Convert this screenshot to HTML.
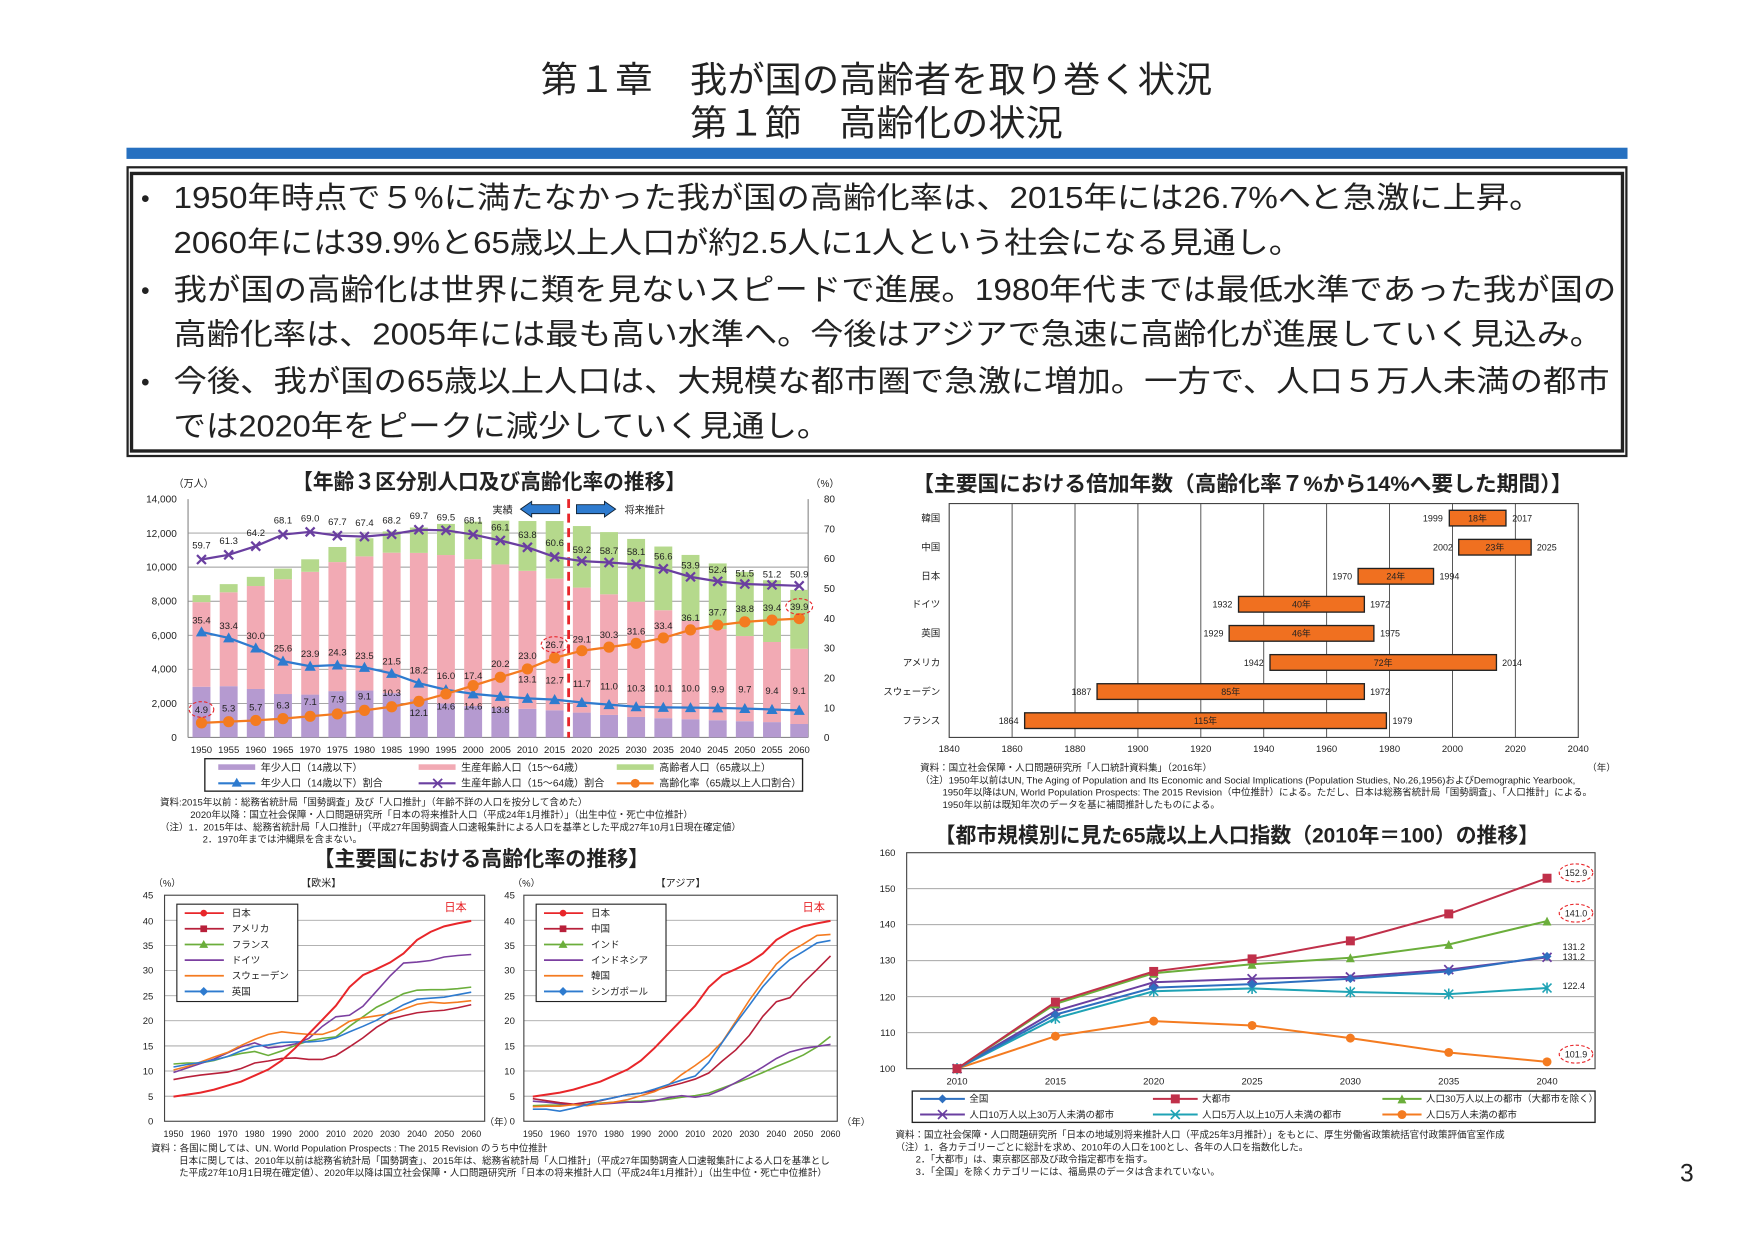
<!DOCTYPE html>
<html><head><meta charset="utf-8"><style>
html,body{margin:0;padding:0;background:#fff}
svg{display:block}
text{font-family:"Liberation Sans","Noto Sans CJK JP",sans-serif;fill:#222}
</style></head><body>
<svg width="1754" height="1241" viewBox="0 0 1567 1109" preserveAspectRatio="none" xmlns="http://www.w3.org/2000/svg">
<defs>
<marker id="mTri" markerUnits="userSpaceOnUse" markerWidth="12" markerHeight="12" refX="6" refY="6"><path d="M6,1 L11,10 L1,10Z" fill="#2E7BCF"/></marker>
<marker id="mX" markerUnits="userSpaceOnUse" markerWidth="12" markerHeight="12" refX="6" refY="6"><path d="M2,2 L10,10 M10,2 L2,10" stroke="#6A3FA0" stroke-width="2"/></marker>
<marker id="mCirc" markerUnits="userSpaceOnUse" markerWidth="12" markerHeight="12" refX="6" refY="6"><circle cx="6" cy="6" r="5" fill="#F47B20"/></marker>
<marker id="cDia" markerUnits="userSpaceOnUse" markerWidth="10" markerHeight="10" refX="5" refY="5"><path d="M5,1 L9,5 L5,9 L1,5Z" fill="#2E6FBF"/></marker>
<marker id="cSq" markerUnits="userSpaceOnUse" markerWidth="10" markerHeight="10" refX="5" refY="5"><rect x="1" y="1" width="8" height="8" fill="#C0304A"/></marker>
<marker id="cTri" markerUnits="userSpaceOnUse" markerWidth="10" markerHeight="10" refX="5" refY="5"><path d="M5,1 L9,9 L1,9Z" fill="#6BAE3B"/></marker>
<marker id="cX" markerUnits="userSpaceOnUse" markerWidth="10" markerHeight="10" refX="5" refY="5"><path d="M1,1 L9,9 M9,1 L1,9" stroke="#6A3FA0" stroke-width="1.6"/></marker>
<marker id="cSt" markerUnits="userSpaceOnUse" markerWidth="10" markerHeight="10" refX="5" refY="5"><path d="M1,1 L9,9 M9,1 L1,9 M5,0 L5,10" stroke="#1FA3B5" stroke-width="1.4"/></marker>
<marker id="cCi" markerUnits="userSpaceOnUse" markerWidth="10" markerHeight="10" refX="5" refY="5"><circle cx="5" cy="5" r="4" fill="#F47B20"/></marker>
</defs>

<!-- Titles -->
<text x="783" y="82" font-size="32" text-anchor="middle" textLength="600" lengthAdjust="spacingAndGlyphs">第１章　我が国の高齢者を取り巻く状況</text>
<text x="783" y="121" font-size="32" text-anchor="middle" textLength="333" lengthAdjust="spacingAndGlyphs">第１節　高齢化の状況</text>
<rect x="113" y="132" width="1341" height="10" fill="#2670C0"/>

<!-- summary box -->
<rect x="114" y="149.5" width="1339" height="258" fill="none" stroke="#222" stroke-width="2"/>
<rect x="117.5" y="155" width="1332" height="248" fill="none" stroke="#222" stroke-width="3"/>
<g font-size="27">
<text x="126" y="185" fill="#2670C0" font-size="22">•</text>
<text x="155" y="186" textLength="1223" lengthAdjust="spacingAndGlyphs">1950年時点で５%に満たなかった我が国の高齢化率は、2015年には26.7%へと急激に上昇。</text>
<text x="155" y="226" textLength="1008" lengthAdjust="spacingAndGlyphs">2060年には39.9%と65歳以上人口が約2.5人に1人という社会になる見通し。</text>
<text x="126" y="267" fill="#2670C0" font-size="22">•</text>
<text x="155" y="268" textLength="1289" lengthAdjust="spacingAndGlyphs">我が国の高齢化は世界に類を見ないスピードで進展。1980年代までは最低水準であった我が国の</text>
<text x="155" y="308" textLength="1277" lengthAdjust="spacingAndGlyphs">高齢化率は、2005年には最も高い水準へ。今後はアジアで急速に高齢化が進展していく見込み。</text>
<text x="126" y="349" fill="#2670C0" font-size="22">•</text>
<text x="155" y="350" textLength="1283" lengthAdjust="spacingAndGlyphs">今後、我が国の65歳以上人口は、大規模な都市圏で急激に増加。一方で、人口５万人未満の都市</text>
<text x="155" y="390" textLength="586" lengthAdjust="spacingAndGlyphs">では2020年をピークに減少していく見通し。</text>
</g>

<!-- ============ Chart 1 ============ -->
<text x="437" y="437" font-size="19" font-weight="bold" text-anchor="middle" textLength="352" lengthAdjust="spacingAndGlyphs">【年齢３区分別人口及び高齢化率の推移】</text>
<text x="155" y="435" font-size="9">（万人）</text>
<text x="724" y="435" font-size="9">（%）</text>
<g stroke="#999" stroke-width="0.8">
<line x1="168" y1="628.6" x2="722" y2="628.6"/><line x1="168" y1="598.1" x2="722" y2="598.1"/><line x1="168" y1="567.7" x2="722" y2="567.7"/><line x1="168" y1="537.3" x2="722" y2="537.3"/><line x1="168" y1="506.8" x2="722" y2="506.8"/><line x1="168" y1="476.4" x2="722" y2="476.4"/>
</g>
<line x1="168" y1="446" x2="168" y2="659" stroke="#888"/>
<line x1="722" y1="446" x2="722" y2="659" stroke="#888"/>
<line x1="168" y1="659" x2="722" y2="659" stroke="#888"/>
<g font-size="9" text-anchor="end">
<text x="158" y="662">0</text><text x="158" y="632">2,000</text><text x="158" y="601">4,000</text><text x="158" y="571">6,000</text><text x="158" y="540">8,000</text><text x="158" y="510">10,000</text><text x="158" y="480">12,000</text><text x="158" y="449">14,000</text>
</g>
<g font-size="9">
<text x="736" y="662">0</text><text x="736" y="636">10</text><text x="736" y="609">20</text><text x="736" y="582">30</text><text x="736" y="556">40</text><text x="736" y="529">50</text><text x="736" y="502">60</text><text x="736" y="476">70</text><text x="736" y="449">80</text>
</g>
<!-- bars -->
<g>
<rect x="172" y="613.7" width="16" height="45.3" fill="#B59AD0"/><rect x="172" y="538.1" width="16" height="75.6" fill="#F2AAB4"/><rect x="172" y="531.8" width="16" height="6.3" fill="#B5D98C"/>
<rect x="196.3" y="613.2" width="16" height="45.8" fill="#B59AD0"/><rect x="196.3" y="529.3" width="16" height="83.9" fill="#F2AAB4"/><rect x="196.3" y="522" width="16" height="7.3" fill="#B5D98C"/>
<rect x="220.5" y="615.7" width="16" height="43.3" fill="#B59AD0"/><rect x="220.5" y="523.7" width="16" height="92" fill="#F2AAB4"/><rect x="220.5" y="515.5" width="16" height="8.2" fill="#B5D98C"/>
<rect x="244.8" y="620.2" width="16" height="38.8" fill="#B59AD0"/><rect x="244.8" y="517.6" width="16" height="102.6" fill="#F2AAB4"/><rect x="244.8" y="508.1" width="16" height="9.5" fill="#B5D98C"/>
<rect x="269.1" y="620.7" width="16" height="38.3" fill="#B59AD0"/><rect x="269.1" y="511" width="16" height="109.7" fill="#F2AAB4"/><rect x="269.1" y="499.8" width="16" height="11.2" fill="#B5D98C"/>
<rect x="293.4" y="617.6" width="16" height="41.4" fill="#B59AD0"/><rect x="293.4" y="502.3" width="16" height="115.3" fill="#F2AAB4"/><rect x="293.4" y="488.8" width="16" height="13.5" fill="#B5D98C"/>
<rect x="317.6" y="617.1" width="16" height="41.9" fill="#B59AD0"/><rect x="317.6" y="497.2" width="16" height="119.9" fill="#F2AAB4"/><rect x="317.6" y="481" width="16" height="16.2" fill="#B5D98C"/>
<rect x="341.9" y="619.4" width="16" height="39.6" fill="#B59AD0"/><rect x="341.9" y="493.9" width="16" height="125.5" fill="#F2AAB4"/><rect x="341.9" y="474.9" width="16" height="19" fill="#B5D98C"/>
<rect x="366.2" y="624.8" width="16" height="34.2" fill="#B59AD0"/><rect x="366.2" y="494.1" width="16" height="130.7" fill="#F2AAB4"/><rect x="366.2" y="471.4" width="16" height="22.7" fill="#B5D98C"/>
<rect x="390.4" y="628.6" width="16" height="30.4" fill="#B59AD0"/><rect x="390.4" y="496" width="16" height="132.6" fill="#F2AAB4"/><rect x="390.4" y="468.2" width="16" height="27.8" fill="#B5D98C"/>
<rect x="414.7" y="630.9" width="16" height="28.1" fill="#B59AD0"/><rect x="414.7" y="499.7" width="16" height="131.2" fill="#F2AAB4"/><rect x="414.7" y="466.2" width="16" height="33.5" fill="#B5D98C"/>
<rect x="439" y="632.3" width="16" height="26.7" fill="#B59AD0"/><rect x="439" y="504.4" width="16" height="127.9" fill="#F2AAB4"/><rect x="439" y="465.3" width="16" height="39.1" fill="#B5D98C"/>
<rect x="463.2" y="633.4" width="16" height="25.6" fill="#B59AD0"/><rect x="463.2" y="510.1" width="16" height="123.3" fill="#F2AAB4"/><rect x="463.2" y="465.6" width="16" height="44.5" fill="#B5D98C"/>
<rect x="487.5" y="634.7" width="16" height="24.3" fill="#B59AD0"/><rect x="487.5" y="517.1" width="16" height="117.6" fill="#F2AAB4"/><rect x="487.5" y="465.6" width="16" height="51.5" fill="#B5D98C"/>
<rect x="511.8" y="636.8" width="16" height="22.2" fill="#B59AD0"/><rect x="511.8" y="525.1" width="16" height="111.7" fill="#F2AAB4"/><rect x="511.8" y="470.1" width="16" height="55" fill="#B5D98C"/>
<rect x="536.1" y="638.9" width="16" height="20.1" fill="#B59AD0"/><rect x="536.1" y="531.1" width="16" height="107.8" fill="#F2AAB4"/><rect x="536.1" y="475.5" width="16" height="55.6" fill="#B5D98C"/>
<rect x="560.3" y="640.7" width="16" height="18.3" fill="#B59AD0"/><rect x="560.3" y="537.7" width="16" height="103" fill="#F2AAB4"/><rect x="560.3" y="481.6" width="16" height="56.1" fill="#B5D98C"/>
<rect x="584.6" y="641.8" width="16" height="17.2" fill="#B59AD0"/><rect x="584.6" y="545.3" width="16" height="96.5" fill="#F2AAB4"/><rect x="584.6" y="488.4" width="16" height="56.9" fill="#B5D98C"/>
<rect x="608.9" y="642.7" width="16" height="16.3" fill="#B59AD0"/><rect x="608.9" y="554.7" width="16" height="88" fill="#F2AAB4"/><rect x="608.9" y="495.9" width="16" height="58.8" fill="#B5D98C"/>
<rect x="633.2" y="643.6" width="16" height="15.4" fill="#B59AD0"/><rect x="633.2" y="562.2" width="16" height="81.4" fill="#F2AAB4"/><rect x="633.2" y="503.5" width="16" height="58.7" fill="#B5D98C"/>
<rect x="657.4" y="644.5" width="16" height="14.5" fill="#B59AD0"/><rect x="657.4" y="568.4" width="16" height="76.1" fill="#F2AAB4"/><rect x="657.4" y="511.1" width="16" height="57.3" fill="#B5D98C"/>
<rect x="681.7" y="645.3" width="16" height="13.7" fill="#B59AD0"/><rect x="681.7" y="573.7" width="16" height="71.6" fill="#F2AAB4"/><rect x="681.7" y="518.5" width="16" height="55.2" fill="#B5D98C"/>
<rect x="706" y="647" width="16" height="12" fill="#B59AD0"/><rect x="706" y="579.8" width="16" height="67.2" fill="#F2AAB4"/><rect x="706" y="527.1" width="16" height="52.7" fill="#B5D98C"/>
</g>
<line x1="508" y1="446" x2="508" y2="659" stroke="#E8262A" stroke-width="2.5" stroke-dasharray="8,5"/>
<path d="M465,455 L475,448 L475,451 L500,451 L500,459 L475,459 L475,462Z" fill="#2E7BCF" stroke="#123" stroke-width="0.8"/>
<path d="M550,455 L540,448 L540,451 L515,451 L515,459 L540,459 L540,462Z" fill="#2E7BCF" stroke="#123" stroke-width="0.8"/>
<text x="440" y="459" font-size="9">実績</text>
<text x="558" y="459" font-size="9">将来推計</text>
<!-- lines -->
<polyline fill="none" stroke="#6A3FA0" stroke-width="2" marker-start="url(#mX)" marker-mid="url(#mX)" marker-end="url(#mX)" points="180,500 204.3,495.8 228.5,488.1 252.8,477.7 277.1,475.3 301.4,478.7 325.6,479.5 349.9,477.4 374.2,473.4 398.4,473.9 422.7,477.7 447,483 471.2,489.1 495.5,497.7 519.8,501.4 544.1,502.7 568.3,504.3 592.6,508.3 616.9,515.5 641.2,519.5 665.4,521.9 689.7,522.7 714,523.5"/>
<polyline fill="none" stroke="#2E7BCF" stroke-width="2" marker-start="url(#mTri)" marker-mid="url(#mTri)" marker-end="url(#mTri)" points="180,564.7 204.3,570.1 228.5,579.1 252.8,590.8 277.1,595.4 301.4,594.3 325.6,596.4 349.9,601.8 374.2,610.5 398.4,616.4 422.7,620.1 447,622.3 471.2,624.1 495.5,625.2 519.8,627.8 544.1,629.7 568.3,631.6 592.6,632.1 616.9,632.4 641.2,632.6 665.4,633.2 689.7,634 714,634.8"/>
<polyline fill="none" stroke="#F47B20" stroke-width="2" marker-start="url(#mCirc)" marker-mid="url(#mCirc)" marker-end="url(#mCirc)" points="180,646 204.3,644.9 228.5,643.8 252.8,642.2 277.1,640.1 301.4,638 325.6,634.8 349.9,631.6 374.2,626.8 398.4,620.1 422.7,612.7 447,605.2 471.2,597.8 495.5,587.9 519.8,581.5 544.1,578.3 568.3,574.9 592.6,570.1 616.9,562.9 641.2,558.6 665.4,555.7 689.7,554.1 714,552.8"/>
<g font-size="8.5" text-anchor="middle">
<text x="180" y="490">59.7</text><text x="204.3" y="486">61.3</text><text x="228.5" y="479">64.2</text><text x="252.8" y="468">68.1</text><text x="277.1" y="466">69.0</text><text x="301.4" y="469">67.7</text><text x="325.6" y="470">67.4</text><text x="349.9" y="468">68.2</text><text x="374.2" y="464">69.7</text><text x="398.4" y="465">69.5</text><text x="422.7" y="468">68.1</text><text x="447" y="474">66.1</text><text x="471.2" y="481">63.8</text><text x="495.5" y="488">60.6</text><text x="519.8" y="494">59.2</text><text x="544.1" y="495">58.7</text><text x="568.3" y="496">58.1</text><text x="592.6" y="500">56.6</text><text x="616.9" y="508">53.9</text><text x="641.2" y="512">52.4</text><text x="665.4" y="515">51.5</text><text x="689.7" y="516">51.2</text><text x="714" y="516">50.9</text>
<text x="180" y="557">35.4</text><text x="204.3" y="562">33.4</text><text x="228.5" y="571">30.0</text><text x="252.8" y="582">25.6</text><text x="277.1" y="587">23.9</text><text x="301.4" y="586">24.3</text><text x="325.6" y="589">23.5</text><text x="349.9" y="594">21.5</text><text x="374.2" y="602">18.2</text><text x="398.4" y="607">16.0</text><text x="422.7" y="607">17.4</text><text x="447" y="596">20.2</text><text x="471.2" y="589">23.0</text><text x="495.5" y="579">26.7</text><text x="519.8" y="574">29.1</text><text x="544.1" y="570">30.3</text><text x="568.3" y="567">31.6</text><text x="592.6" y="562">33.4</text><text x="616.9" y="555">36.1</text><text x="641.2" y="550">37.7</text><text x="665.4" y="547">38.8</text><text x="689.7" y="546">39.4</text><text x="714" y="545">39.9</text>
<text x="180" y="637">4.9</text><text x="204.3" y="636">5.3</text><text x="228.5" y="635">5.7</text><text x="252.8" y="633">6.3</text><text x="277.1" y="630">7.1</text><text x="301.4" y="628">7.9</text><text x="325.6" y="625">9.1</text><text x="349.9" y="622">10.3</text><text x="374.2" y="640">12.1</text><text x="398.4" y="634">14.6</text><text x="422.7" y="634">14.6</text><text x="447" y="637">13.8</text><text x="471.2" y="610">13.1</text><text x="495.5" y="611">12.7</text><text x="519.8" y="614">11.7</text><text x="544.1" y="616">11.0</text><text x="568.3" y="618">10.3</text><text x="592.6" y="618">10.1</text><text x="616.9" y="618">10.0</text><text x="641.2" y="619">9.9</text><text x="665.4" y="619">9.7</text><text x="689.7" y="620">9.4</text><text x="714" y="620">9.1</text>
</g>
<g fill="none" stroke="#E8262A" stroke-width="1" stroke-dasharray="3,2">
<ellipse cx="180" cy="634" rx="11" ry="7"/><ellipse cx="495.5" cy="576" rx="12" ry="7"/><ellipse cx="714" cy="542" rx="12" ry="7"/>
</g>
<g font-size="8.5" text-anchor="middle">
<text x="180" y="673">1950</text><text x="204.3" y="673">1955</text><text x="228.5" y="673">1960</text><text x="252.8" y="673">1965</text><text x="277.1" y="673">1970</text><text x="301.4" y="673">1975</text><text x="325.6" y="673">1980</text><text x="349.9" y="673">1985</text><text x="374.2" y="673">1990</text><text x="398.4" y="673">1995</text><text x="422.7" y="673">2000</text><text x="447" y="673">2005</text><text x="471.2" y="673">2010</text><text x="495.5" y="673">2015</text><text x="519.8" y="673">2020</text><text x="544.1" y="673">2025</text><text x="568.3" y="673">2030</text><text x="592.6" y="673">2035</text><text x="616.9" y="673">2040</text><text x="641.2" y="673">2045</text><text x="665.4" y="673">2050</text><text x="689.7" y="673">2055</text><text x="714" y="673">2060</text>
</g>
<rect x="183" y="678" width="534" height="29" fill="none" stroke="#222" stroke-width="1.2"/>
<rect x="195" y="683" width="33" height="5" fill="#B59AD0"/><text x="233" y="689" font-size="9">年少人口（14歳以下）</text>
<rect x="374" y="683" width="33" height="5" fill="#F2AAB4"/><text x="412" y="689" font-size="9">生産年齢人口（15～64歳）</text>
<rect x="551" y="683" width="33" height="5" fill="#B5D98C"/><text x="589" y="689" font-size="9">高齢者人口（65歳以上）</text>
<line x1="195" y1="700" x2="228" y2="700" stroke="#2E7BCF" stroke-width="2"/><path d="M211.5,695 L216,703 L207,703Z" fill="#2E7BCF"/><text x="233" y="703" font-size="9">年少人口（14歳以下）割合</text>
<line x1="374" y1="700" x2="407" y2="700" stroke="#6A3FA0" stroke-width="2"/><path d="M387,696 L395,704 M395,696 L387,704" stroke="#6A3FA0" stroke-width="1.6"/><text x="412" y="703" font-size="9">生産年齢人口（15～64歳）割合</text>
<line x1="551" y1="700" x2="584" y2="700" stroke="#F47B20" stroke-width="2"/><circle cx="567.5" cy="700" r="4" fill="#F47B20"/><text x="589" y="703" font-size="9">高齢化率（65歳以上人口割合）</text>
<g font-size="8.5">
<text x="143" y="720">資料:2015年以前：総務省統計局「国勢調査」及び「人口推計」（年齢不詳の人口を按分して含めた）</text>
<text x="170" y="731">2020年以降：国立社会保障・人口問題研究所「日本の将来推計人口（平成24年1月推計）」（出生中位・死亡中位推計）</text>
<text x="143" y="742">（注）1．2015年は、総務省統計局「人口推計」（平成27年国勢調査人口速報集計による人口を基準とした平成27年10月1日現在確定値）</text>
<text x="181" y="753">2．1970年までは沖縄県を含まない。</text>
</g>

<!-- ============ Chart 2 ============ -->
<text x="1110" y="439" font-size="19" font-weight="bold" text-anchor="middle" textLength="590" lengthAdjust="spacingAndGlyphs">【主要国における倍加年数（高齢化率７%から14%へ要した期間）】</text>
<rect x="848" y="450" width="562" height="209" fill="none" stroke="#444"/>
<g stroke="#444" stroke-width="0.8">
<line x1="904.2" y1="450" x2="904.2" y2="659"/><line x1="960.4" y1="450" x2="960.4" y2="659"/><line x1="1016.6" y1="450" x2="1016.6" y2="659"/><line x1="1072.8" y1="450" x2="1072.8" y2="659"/><line x1="1129" y1="450" x2="1129" y2="659"/><line x1="1185.2" y1="450" x2="1185.2" y2="659"/><line x1="1241.4" y1="450" x2="1241.4" y2="659"/><line x1="1297.6" y1="450" x2="1297.6" y2="659"/><line x1="1353.8" y1="450" x2="1353.8" y2="659"/>
</g>
<g font-size="8.5" text-anchor="middle">
<text x="848" y="672">1840</text><text x="904.2" y="672">1860</text><text x="960.4" y="672">1880</text><text x="1016.6" y="672">1900</text><text x="1072.8" y="672">1920</text><text x="1129" y="672">1940</text><text x="1185.2" y="672">1960</text><text x="1241.4" y="672">1980</text><text x="1297.6" y="672">2000</text><text x="1353.8" y="672">2020</text><text x="1410" y="672">2040</text>
</g>
<g font-size="8.5" text-anchor="end">
<text x="840" y="466">韓国</text><text x="840" y="492">中国</text><text x="840" y="518">日本</text><text x="840" y="543">ドイツ</text><text x="840" y="569">英国</text><text x="840" y="595">アメリカ</text><text x="840" y="621">スウェーデン</text><text x="840" y="647">フランス</text>
</g>
<g fill="#F07020" stroke="#222" stroke-width="1.2">
<rect x="1294.8" y="456" width="50.6" height="14"/><rect x="1303.2" y="482" width="64.7" height="14"/><rect x="1213.3" y="508" width="67.4" height="14"/><rect x="1106.5" y="533" width="112.4" height="14"/><rect x="1098.1" y="559" width="129.3" height="14"/><rect x="1134.6" y="585" width="202.3" height="14"/><rect x="980.1" y="611" width="238.8" height="14"/><rect x="915.4" y="637" width="323.2" height="14"/>
</g>
<g font-size="8" text-anchor="middle">
<text x="1320" y="466">18年</text><text x="1335.5" y="492">23年</text><text x="1247" y="518">24年</text><text x="1162.7" y="543">40年</text><text x="1162.7" y="569">46年</text><text x="1235.7" y="595">72年</text><text x="1099.5" y="621">85年</text><text x="1077" y="647">115年</text>
</g>
<g font-size="8" text-anchor="end">
<text x="1289" y="466">1999</text><text x="1298" y="492">2002</text><text x="1208" y="518">1970</text><text x="1101" y="543">1932</text><text x="1093" y="569">1929</text><text x="1129" y="595">1942</text><text x="975" y="621">1887</text><text x="910" y="647">1864</text>
</g>
<g font-size="8">
<text x="1351" y="466">2017</text><text x="1373" y="492">2025</text><text x="1286" y="518">1994</text><text x="1224" y="543">1972</text><text x="1233" y="569">1975</text><text x="1342" y="595">2014</text><text x="1224" y="621">1972</text><text x="1244" y="647">1979</text>
</g>
<g font-size="8.5">
<text x="822" y="689">資料：国立社会保障・人口問題研究所「人口統計資料集」（2016年）</text>
<text x="1418" y="689">（年）</text>
<text x="822" y="700">（注）1950年以前はUN, The Aging of Population and Its Economic and Social Implications (Population Studies, No.26,1956)およびDemographic Yearbook,</text>
<text x="842" y="711">1950年以降はUN, World Population Prospects: The 2015 Revision（中位推計）による。ただし、日本は総務省統計局「国勢調査」、「人口推計」による。</text>
<text x="842" y="722">1950年以前は既知年次のデータを基に補間推計したものによる。</text>
</g>

<!-- ============ Chart 3 ============ -->
<text x="1105" y="753" font-size="19" font-weight="bold" text-anchor="middle" textLength="540" lengthAdjust="spacingAndGlyphs">【都市規模別に見た65歳以上人口指数（2010年＝100）の推移】</text>
<rect x="810" y="762" width="615" height="193" fill="none" stroke="#444"/>
<g stroke="#999" stroke-width="0.8">
<line x1="810" y1="922.8" x2="1425" y2="922.8"/><line x1="810" y1="890.7" x2="1425" y2="890.7"/><line x1="810" y1="858.5" x2="1425" y2="858.5"/><line x1="810" y1="826.3" x2="1425" y2="826.3"/><line x1="810" y1="794.2" x2="1425" y2="794.2"/>
</g>
<g font-size="8.5" text-anchor="end">
<text x="800" y="958">100</text><text x="800" y="926">110</text><text x="800" y="894">120</text><text x="800" y="861">130</text><text x="800" y="829">140</text><text x="800" y="797">150</text><text x="800" y="765">160</text>
</g>
<g font-size="8.5" text-anchor="middle">
<text x="855" y="969">2010</text><text x="942.9" y="969">2015</text><text x="1030.7" y="969">2020</text><text x="1118.6" y="969">2025</text><text x="1206.4" y="969">2030</text><text x="1294.3" y="969">2035</text><text x="1382.1" y="969">2040</text>
</g>
<g fill="none" stroke-width="1.8">
<polyline stroke="#F47B20" marker-start="url(#cCi)" marker-mid="url(#cCi)" marker-end="url(#cCi)" points="855,955 942.9,926 1030.7,912.5 1118.6,916.4 1206.4,927.7 1294.3,940.5 1382.1,948.9"/>
<polyline stroke="#1FA3B5" marker-start="url(#cSt)" marker-mid="url(#cSt)" marker-end="url(#cSt)" points="855,955 942.9,910 1030.7,885.8 1118.6,883.3 1206.4,886.5 1294.3,888.4 1382.1,882.9"/>
<polyline stroke="#6A3FA0" marker-start="url(#cX)" marker-mid="url(#cX)" marker-end="url(#cX)" points="855,955 942.9,903.5 1030.7,877.8 1118.6,874.6 1206.4,873 1294.3,866.5 1382.1,855.5"/>
<polyline stroke="#2E6FBF" marker-start="url(#cDia)" marker-mid="url(#cDia)" marker-end="url(#cDia)" points="855,955 942.9,906.7 1030.7,882.6 1118.6,879.4 1206.4,874.6 1294.3,868.1 1382.1,854.6"/>
<polyline stroke="#6BAE3B" marker-start="url(#cTri)" marker-mid="url(#cTri)" marker-end="url(#cTri)" points="855,955 942.9,897.1 1030.7,869.7 1118.6,861.7 1206.4,855.9 1294.3,844 1382.1,823.1"/>
<polyline stroke="#C0304A" marker-start="url(#cSq)" marker-mid="url(#cSq)" marker-end="url(#cSq)" points="855,955 942.9,895.5 1030.7,868.1 1118.6,856.9 1206.4,840.8 1294.3,816.7 1382.1,784.8"/>
</g>
<g fill="none" stroke="#E8262A" stroke-dasharray="3,2">
<ellipse cx="1408" cy="780" rx="15" ry="8"/><ellipse cx="1408" cy="816" rx="15" ry="8"/><ellipse cx="1408" cy="942" rx="15" ry="8"/>
</g>
<g font-size="8" text-anchor="middle">
<text x="1408" y="783">152.9</text><text x="1408" y="819">141.0</text><text x="1406" y="849">131.2</text><text x="1406" y="858">131.2</text><text x="1406" y="884">122.4</text><text x="1408" y="945">101.9</text>
</g>
<rect x="815" y="975" width="610" height="28" fill="none" stroke="#222" stroke-width="1.2"/>
<g font-size="8.5">
<line x1="822" y1="982" x2="862" y2="982" stroke="#2E6FBF" stroke-width="1.8"/><path d="M842,978 L846,982 L842,986 L838,982Z" fill="#2E6FBF"/><text x="866" y="985">全国</text>
<line x1="1030" y1="982" x2="1070" y2="982" stroke="#C0304A" stroke-width="1.8"/><rect x="1046" y="978" width="8" height="8" fill="#C0304A"/><text x="1074" y="985">大都市</text>
<line x1="1235" y1="982" x2="1270" y2="982" stroke="#6BAE3B" stroke-width="1.8"/><path d="M1252.5,978 L1256.5,986 L1248.5,986Z" fill="#6BAE3B"/><text x="1274" y="985">人口30万人以上の都市（大都市を除く）</text>
<line x1="822" y1="996" x2="862" y2="996" stroke="#6A3FA0" stroke-width="1.8"/><path d="M838,992 L846,1000 M846,992 L838,1000" stroke="#6A3FA0" stroke-width="1.5"/><text x="866" y="999">人口10万人以上30万人未満の都市</text>
<line x1="1030" y1="996" x2="1070" y2="996" stroke="#1FA3B5" stroke-width="1.8"/><path d="M1046,992 L1054,1000 M1054,992 L1046,1000" stroke="#1FA3B5" stroke-width="1.5"/><text x="1074" y="999">人口5万人以上10万人未満の都市</text>
<line x1="1235" y1="996" x2="1270" y2="996" stroke="#F47B20" stroke-width="1.8"/><circle cx="1252.5" cy="996" r="4" fill="#F47B20"/><text x="1274" y="999">人口5万人未満の都市</text>
</g>
<g font-size="8.5">
<text x="800" y="1017">資料：国立社会保障・人口問題研究所「日本の地域別将来推計人口（平成25年3月推計）」をもとに、厚生労働省政策統括官付政策評価官室作成</text>
<text x="800" y="1028">（注）1．各カテゴリーごとに総計を求め、2010年の人口を100とし、各年の人口を指数化した。</text>
<text x="818" y="1039">2．「大都市」は、東京都区部及び政令指定都市を指す。</text>
<text x="818" y="1050">3．「全国」を除くカテゴリーには、福島県のデータは含まれていない。</text>
</g>

<!-- ============ Chart 4 ============ -->
<text x="430" y="774" font-size="19" font-weight="bold" text-anchor="middle" textLength="300" lengthAdjust="spacingAndGlyphs">【主要国における高齢化率の推移】</text>
<text x="287" y="792" font-size="9" text-anchor="middle">【欧米】</text>
<text x="608" y="792" font-size="9" text-anchor="middle">【アジア】</text>
<text x="137" y="792" font-size="8.5">（%）</text>
<text x="458" y="792" font-size="8.5">（%）</text>
<g stroke="#999" stroke-width="0.7">
<line x1="147" y1="979.6" x2="433" y2="979.6"/><line x1="147" y1="957.1" x2="433" y2="957.1"/><line x1="147" y1="934.7" x2="433" y2="934.7"/><line x1="147" y1="912.2" x2="433" y2="912.2"/><line x1="147" y1="889.8" x2="433" y2="889.8"/><line x1="147" y1="867.3" x2="433" y2="867.3"/><line x1="147" y1="844.9" x2="433" y2="844.9"/><line x1="147" y1="822.4" x2="433" y2="822.4"/>
<line x1="468" y1="979.6" x2="748" y2="979.6"/><line x1="468" y1="957.1" x2="748" y2="957.1"/><line x1="468" y1="934.7" x2="748" y2="934.7"/><line x1="468" y1="912.2" x2="748" y2="912.2"/><line x1="468" y1="889.8" x2="748" y2="889.8"/><line x1="468" y1="867.3" x2="748" y2="867.3"/><line x1="468" y1="844.9" x2="748" y2="844.9"/><line x1="468" y1="822.4" x2="748" y2="822.4"/>
</g>
<rect x="147" y="800" width="286" height="202" fill="none" stroke="#444"/>
<rect x="468" y="800" width="280" height="202" fill="none" stroke="#444"/>
<g font-size="8.5" text-anchor="end">
<text x="137" y="1005">0</text><text x="137" y="983">5</text><text x="137" y="960">10</text><text x="137" y="938">15</text><text x="137" y="915">20</text><text x="137" y="893">25</text><text x="137" y="870">30</text><text x="137" y="848">35</text><text x="137" y="826">40</text><text x="137" y="803">45</text>
<text x="460" y="1005">0</text><text x="460" y="983">5</text><text x="460" y="960">10</text><text x="460" y="938">15</text><text x="460" y="915">20</text><text x="460" y="893">25</text><text x="460" y="870">30</text><text x="460" y="848">35</text><text x="460" y="826">40</text><text x="460" y="803">45</text>
</g>
<g font-size="8" text-anchor="middle">
<text x="155" y="1016">1950</text><text x="179.2" y="1016">1960</text><text x="203.4" y="1016">1970</text><text x="227.5" y="1016">1980</text><text x="251.7" y="1016">1990</text><text x="275.9" y="1016">2000</text><text x="300.1" y="1016">2010</text><text x="324.3" y="1016">2020</text><text x="348.4" y="1016">2030</text><text x="372.6" y="1016">2040</text><text x="396.8" y="1016">2050</text><text x="421" y="1016">2060</text>
<text x="476" y="1016">1950</text><text x="500.2" y="1016">1960</text><text x="524.4" y="1016">1970</text><text x="548.5" y="1016">1980</text><text x="572.7" y="1016">1990</text><text x="596.9" y="1016">2000</text><text x="621.1" y="1016">2010</text><text x="645.3" y="1016">2020</text><text x="669.4" y="1016">2030</text><text x="693.6" y="1016">2040</text><text x="717.8" y="1016">2050</text><text x="742" y="1016">2060</text>
</g>
<text x="433" y="1006" font-size="8.5">（年）</text>
<text x="752" y="1006" font-size="8.5">（年）</text>
<g transform="translate(155,1002) scale(12.09,-4.489)" fill="none" stroke-width="1.6">
<polyline vector-effect="non-scaling-stroke" stroke="#B8203A" points="0,8.3 1,8.8 2,9.2 3,9.5 4,9.8 5,10.5 6,11.6 7,12 8,12.5 9,12.6 10,12.3 11,12.3 12,13.1 13,14.8 14,16.6 15,18.7 16,20.3 17,21 18,21.6 19,21.9 20,22.1 21,22.6 22,23.2"/>
<polyline vector-effect="non-scaling-stroke" stroke="#6BAE3B" points="0,11.4 1,11.6 2,11.6 3,12.1 4,12.9 5,13.5 6,13.9 7,13.1 8,14 9,15.1 10,16 11,16.5 12,16.8 13,18.9 14,20.8 15,22.7 16,24 17,25.4 18,26.1 19,26.2 20,26.2 21,26.4 22,26.7"/>
<polyline vector-effect="non-scaling-stroke" stroke="#7B3FA0" points="0,9.7 1,10.6 2,11.5 3,12.4 4,13.6 5,14.8 6,15.6 7,14.6 8,14.9 9,15.4 10,16.5 11,18.9 12,20.8 13,21.1 14,22.9 15,25.9 16,28.9 17,31.5 18,31.7 19,32 20,32.7 21,33 22,33.2"/>
<polyline vector-effect="non-scaling-stroke" stroke="#F47B20" points="0,10.2 1,10.9 2,11.8 3,12.8 4,13.7 5,15.1 6,16.3 7,17.3 8,17.8 9,17.5 10,17.3 11,17.3 12,18.2 13,19.9 14,20.6 15,21 16,21.4 17,22.3 18,23.3 19,23.7 20,23.5 21,23.7 22,24"/>
<polyline vector-effect="non-scaling-stroke" stroke="#2E7BCF" points="0,10.8 1,11.3 2,11.7 3,12.2 4,12.9 5,14 6,14.9 7,15.2 8,15.7 9,15.8 10,15.8 11,16 12,16.6 13,17.8 14,18.9 15,20.1 16,21.7 17,23.2 18,24.3 19,24.5 20,24.7 21,25.2 22,25.7"/>
<polyline vector-effect="non-scaling-stroke" stroke="#E8262A" stroke-width="2" points="0,4.9 1,5.3 2,5.7 3,6.3 4,7.1 5,7.9 6,9.1 7,10.3 8,12.1 9,14.6 10,17.4 11,20.2 12,23 13,26.7 14,29.1 15,30.3 16,31.6 17,33.4 18,36.1 19,37.7 20,38.8 21,39.4 22,39.9"/>
</g>
<g transform="translate(476,1002) scale(12.09,-4.489)" fill="none" stroke-width="1.6">
<polyline vector-effect="non-scaling-stroke" stroke="#6BAE3B" points="0,3.1 1,3.2 2,3.2 3,3.3 4,3.4 5,3.6 6,3.8 7,3.9 8,4 9,4.2 10,4.4 11,4.8 12,5.1 13,5.6 14,6.6 15,7.6 16,8.6 17,9.7 18,10.9 19,12 20,13.2 21,14.8 22,16.9"/>
<polyline vector-effect="non-scaling-stroke" stroke="#7B3FA0" points="0,4 1,3.8 2,3.5 3,3.3 4,3.3 5,3.4 6,3.6 7,3.8 8,3.8 9,4.1 10,4.7 11,5.1 12,4.8 13,5.2 14,6.3 15,7.7 16,9.2 17,10.8 18,12.5 19,13.8 20,14.5 21,14.9 22,15.3"/>
<polyline vector-effect="non-scaling-stroke" stroke="#B8203A" points="0,4.5 1,4.1 2,3.7 3,3.4 4,3.8 5,4.1 6,4.7 7,5.3 8,5.6 9,6.1 10,6.9 11,7.6 12,8.4 13,9.6 14,12 15,14.2 16,17.1 17,20.9 18,23.8 19,24.6 20,27.6 21,30.2 22,32.9"/>
<polyline vector-effect="non-scaling-stroke" stroke="#F47B20" points="0,2.9 1,3 2,3 3,3.3 4,3.1 5,3.5 6,3.8 7,4.3 8,5.1 9,5.9 10,7.2 11,9.3 12,11.1 13,13.1 14,15.8 15,19.9 16,24.1 17,27.8 18,31.3 19,33.7 20,35.3 21,37 22,37.2"/>
<polyline vector-effect="non-scaling-stroke" stroke="#2E7BCF" points="0,2.4 1,2.4 2,2 3,2.6 4,3.3 5,4.2 6,4.7 7,5.3 8,5.6 9,6.4 10,7.3 11,8.2 12,9 13,11.7 14,15.7 15,19.5 16,23.1 17,26.8 18,29.8 19,32.2 20,33.8 21,35.5 22,36"/>
<polyline vector-effect="non-scaling-stroke" stroke="#E8262A" stroke-width="2" points="0,4.9 1,5.3 2,5.7 3,6.3 4,7.1 5,7.9 6,9.1 7,10.3 8,12.1 9,14.6 10,17.4 11,20.2 12,23 13,26.7 14,29.1 15,30.3 16,31.6 17,33.4 18,36.1 19,37.7 20,38.8 21,39.4 22,39.9"/>
</g>
<text x="407" y="814" font-size="10" text-anchor="middle" style="fill:#E8262A">日本</text>
<text x="727" y="814" font-size="10" text-anchor="middle" style="fill:#E8262A">日本</text>
<rect x="158" y="808" width="108" height="87" fill="#fff" stroke="#222"/>
<g font-size="8.5">
<line x1="165" y1="816" x2="200" y2="816" stroke="#E8262A" stroke-width="1.6"/><circle cx="182" cy="816" r="3" fill="#E8262A"/><text x="207" y="819">日本</text>
<line x1="165" y1="830" x2="200" y2="830" stroke="#B8203A" stroke-width="1.6"/><rect x="179" y="827" width="6" height="6" fill="#B8203A"/><text x="207" y="833">アメリカ</text>
<line x1="165" y1="844" x2="200" y2="844" stroke="#6BAE3B" stroke-width="1.6"/><path d="M182,840 L186,847 L178,847Z" fill="#6BAE3B"/><text x="207" y="847">フランス</text>
<line x1="165" y1="858" x2="200" y2="858" stroke="#7B3FA0" stroke-width="1.6"/><text x="207" y="861">ドイツ</text>
<line x1="165" y1="872" x2="200" y2="872" stroke="#F47B20" stroke-width="1.6"/><text x="207" y="875">スウェーデン</text>
<line x1="165" y1="886" x2="200" y2="886" stroke="#2E7BCF" stroke-width="1.6"/><path d="M182,882 L186,886 L182,890 L178,886Z" fill="#2E7BCF"/><text x="207" y="889">英国</text>
</g>
<rect x="479" y="808" width="116" height="87" fill="#fff" stroke="#222"/>
<g font-size="8.5">
<line x1="486" y1="816" x2="521" y2="816" stroke="#E8262A" stroke-width="1.6"/><circle cx="503" cy="816" r="3" fill="#E8262A"/><text x="528" y="819">日本</text>
<line x1="486" y1="830" x2="521" y2="830" stroke="#B8203A" stroke-width="1.6"/><rect x="500" y="827" width="6" height="6" fill="#B8203A"/><text x="528" y="833">中国</text>
<line x1="486" y1="844" x2="521" y2="844" stroke="#6BAE3B" stroke-width="1.6"/><path d="M503,840 L507,847 L499,847Z" fill="#6BAE3B"/><text x="528" y="847">インド</text>
<line x1="486" y1="858" x2="521" y2="858" stroke="#7B3FA0" stroke-width="1.6"/><text x="528" y="861">インドネシア</text>
<line x1="486" y1="872" x2="521" y2="872" stroke="#F47B20" stroke-width="1.6"/><text x="528" y="875">韓国</text>
<line x1="486" y1="886" x2="521" y2="886" stroke="#2E7BCF" stroke-width="1.6"/><path d="M503,882 L507,886 L503,890 L499,886Z" fill="#2E7BCF"/><text x="528" y="889">シンガポール</text>
</g>
<g font-size="8.5">
<text x="135" y="1029">資料：各国に関しては、UN. World Population Prospects : The 2015 Revision のうち中位推計</text>
<text x="160" y="1040">日本に関しては、2010年以前は総務省統計局「国勢調査」、2015年は、総務省統計局「人口推計」（平成27年国勢調査人口速報集計による人口を基準とし</text>
<text x="160" y="1051">た平成27年10月1日現在確定値）、2020年以降は国立社会保障・人口問題研究所「日本の将来推計人口（平成24年1月推計）」（出生中位・死亡中位推計）</text>
</g>
<text x="1507" y="1056" font-size="22" text-anchor="middle">3</text>
</svg>
</body></html>
